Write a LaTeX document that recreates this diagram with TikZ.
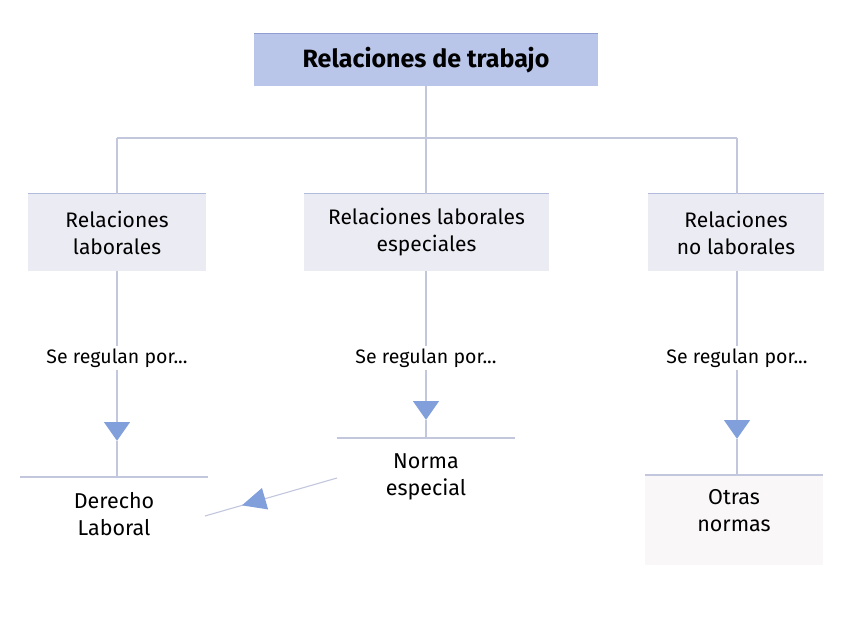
\documentclass[tikz,border=0pt]{standalone}
\usepackage{fontspec}
\setmainfont{Fira Sans}
\usetikzlibrary{shapes.geometric,decorations.markings,arrows.meta}
\definecolor{headfill}{HTML}{B9C5E9}
\definecolor{headedge}{HTML}{8E9ED0}
\definecolor{boxfill}{HTML}{EBEBF3}
\definecolor{boxedge}{HTML}{B3BBDC}
\definecolor{linec}{HTML}{C3C7DE}
\definecolor{tric}{HTML}{809FDB}
\definecolor{leaffill}{HTML}{F9F7F7}
\tikzset{
  head/.style={fill=headfill, minimum width=344pt, minimum height=52pt, inner sep=0pt,
    font=\fontsize{25}{29}\selectfont\bfseries},
  catbox/.style={fill=boxfill, minimum height=77pt, inner sep=0pt, align=center,
    font=\fontsize{21}{27}\selectfont},
  reg/.style={inner sep=2pt, font=\fontsize{19.5}{22}\selectfont},
  leaf/.style={inner sep=0pt, minimum height=#1, anchor=north, align=center,
    font=\fontsize{21.5}{27}\selectfont},
  tri/.style={isosceles triangle, shape border rotate=-90, isosceles triangle apex angle=70,
    fill=tric, inner sep=0pt, minimum height=17pt, minimum width=26pt},
  conn/.style={draw=linec, line width=1.1pt},
  topline/.style={draw=#1, line width=1.2pt}
}
\begin{document}
\begin{tikzpicture}[x=1pt,y=-1pt]
\useasboundingbox[fill=white] (0,0) rectangle (848,636);
% top
\node[head] (top) at (426,60) {Relaciones de trabajo};
\draw[topline=headedge] (top.north west) -- (top.north east);
% categories
\node[catbox, minimum width=178pt] (rl) at (117,232.5) {Relaciones\\laborales};
\node[catbox, minimum width=245pt] (rle) at (426.5,232.5) {Relaciones laborales\\especiales};
\node[catbox, minimum width=176pt] (rnl) at (736,232.5) {Relaciones\\no laborales};
\foreach \n in {rl,rle,rnl}{\draw[topline=boxedge] (\n.north west) -- (\n.north east);}
% branching
\coordinate (hl) at (117,138);
\coordinate (hm) at (426,138);
\coordinate (hr) at (737,138);
\draw[conn] (top.south) -- (hm);
\draw[conn] (hl) -- (hr);
\draw[conn] (hl) -- (hl |- rl.north);
\draw[conn] (hm) -- (hm |- rle.north);
\draw[conn] (hr) -- (hr |- rnl.north);
% regulan
\node[reg] (sl) at (117,358) {Se regulan por...};
\node[reg] (sm) at (426,358) {Se regulan por...};
\node[reg] (sr) at (737,358) {Se regulan por...};
\draw[conn] (rl.south -| sl) -- (sl.north);
\draw[conn] (rle.south -| sm) -- (sm.north);
\draw[conn] (rnl.south -| sr) -- (sr.north);
% triangles
\node[tri] (tl) at (117,429) {};
\node[tri] (tm) at (426,408) {};
\node[tri] (tr) at (737,427) {};
\draw[conn] (sl.south) -- (tl.north);
\draw[conn] (sm.south) -- (tm.north);
\draw[conn] (sr.south) -- (tr.north);
% leaves
\coordinate (onA) at (645,475);
\coordinate (onB) at (823,565);
\fill[leaffill] (onA) rectangle (onB);
\node[leaf=74pt, minimum width=188pt] (dl) at (114,477) {Derecho\\Laboral};
\node[leaf=78pt, minimum width=178pt] (ne) at (426,438) {Norma\\especial};
\node[leaf=70pt, minimum width=178pt] (on) at (734,475) {Otras\\normas};
\foreach \n in {dl,ne,on}{\draw[conn] (\n.north west) -- (\n.north east);}
\draw[conn] (tl.south) -- (tl |- dl.north);
\draw[conn] (tm.south) -- (tm |- ne.north);
\draw[conn] (tr.south) -- (tr |- on.north);
% diagonal
\coordinate (da) at (337,478);
\coordinate (db) at (205,516);
\draw[conn, postaction={decorate}, decoration={markings,
  mark=at position 0.72 with {\arrow[tric]{Triangle[length=24pt,width=22pt]}}}] (da) -- (db);
\end{tikzpicture}
\end{document}
